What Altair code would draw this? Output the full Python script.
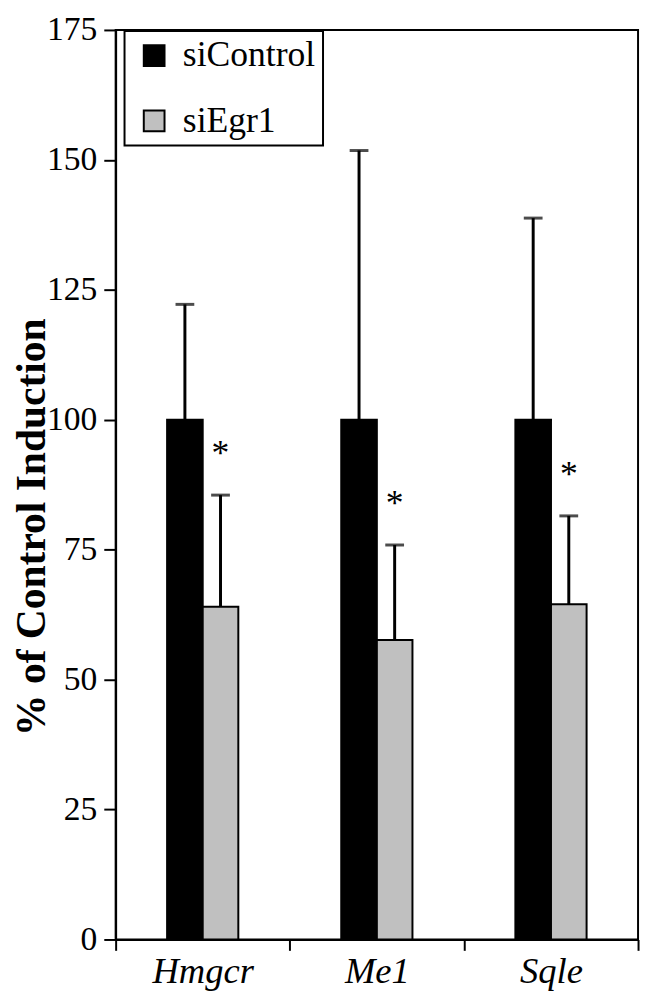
import altair as alt
import pandas as pd

genes = ["Hmgcr", "Me1", "Sqle"]
series = ["siControl", "siEgr1"]
control_mean = [100, 100, 100]
control_upper = [122.2, 151.8, 138.8]
egr1_mean = [64.0, 57.6, 64.5]
egr1_upper = [85.5, 75.9, 81.5]
y_ticks = [0, 25, 50, 75, 100, 125, 150, 175]

rows = []
for i, g in enumerate(genes):
    rows.append({"Gene": g, "Series": series[0], "Value": control_mean[i], "Upper": control_upper[i], "Sig": ""})
    rows.append({"Gene": g, "Series": series[1], "Value": egr1_mean[i], "Upper": egr1_upper[i], "Sig": "*"})
df = pd.DataFrame(rows)

FONT = "Liberation Serif"

# x for the drawn marks (groups of two adjacent bars)
x_bar = alt.X(
    "Gene:N",
    sort=genes,
    scale=alt.Scale(paddingInner=0.591, paddingOuter=0.2955),
    axis=None,
)
xoff_enc = alt.XOffset("Series:N", scale=alt.Scale(domain=series, paddingInner=0, paddingOuter=0))
y_scale = alt.Scale(domain=[0, 175], nice=False)

y_axis = alt.Axis(
    title="% of Control Induction",
    values=y_ticks,
    grid=False,
    tickSize=12,
    tickWidth=2,
    tickColor="black",
    domainColor="black",
    domainWidth=2,
    labelFont=FONT,
    labelFontSize=34,
    labelColor="black",
    labelPadding=7,
    titleFont=FONT,
    titleFontSize=42,
    titleFontWeight="bold",
    titleColor="black",
    titleX=-72,
    titleY=503,
    titleAlign="center",
    titleBaseline="alphabetic",
    titleAngle=270,
)

# invisible layer that carries the category axis with ticks on band boundaries
axis_layer = alt.Chart(df).mark_point(opacity=0).encode(
    x=alt.X(
        "Gene:N",
        sort=genes,
        scale=alt.Scale(paddingInner=0, paddingOuter=0),
        axis=alt.Axis(
            title="",
            orient="bottom",
            tickBand="extent",
            tickSize=11,
            tickWidth=2,
            tickColor="black",
            domainColor="black",
            domainWidth=2,
            labelFont=FONT,
            labelFontSize=37,
            labelFontStyle="italic",
            labelColor="black",
            labelPadding=4,
            labelAngle=0,
        ),
    ),
    y=alt.Y("Value:Q", scale=y_scale, axis=y_axis),
)

bars = alt.Chart(df).mark_bar(stroke="black", strokeWidth=2).encode(
    x=x_bar,
    xOffset=xoff_enc,
    y=alt.Y("Value:Q", scale=y_scale),
    color=alt.Color(
        "Series:N",
        scale=alt.Scale(domain=series, range=["#000000", "#c0c0c0"]),
        legend=alt.Legend(
            title="",
            orient="none",
            legendX=9,
            legendY=1,
            symbolType="square",
            symbolSize=441,
            symbolStrokeColor="black",
            symbolStrokeWidth=2,
            symbolOffset=5,
            labelFont=FONT,
            labelFontSize=36,
            labelColor="black",
            labelOffset=11,
            rowPadding=30,
            padding=7,
            strokeColor="black",
            fillColor="white",
        ),
    ),
)

err = alt.Chart(df).mark_rule(color="black", strokeWidth=3).encode(
    x=x_bar,
    xOffset=alt.XOffset("Series:N"),
    y=alt.Y("Value:Q"),
    y2=alt.Y2("Upper:Q"),
)

caps = alt.Chart(df).mark_tick(color="black", thickness=3, size=19, orient="horizontal").encode(
    x=x_bar,
    xOffset=alt.XOffset("Series:N"),
    y=alt.Y("Upper:Q"),
)

stars = alt.Chart(df).mark_text(font=FONT, fontSize=36, color="black", dy=-30, baseline="alphabetic").encode(
    x=x_bar,
    xOffset=alt.XOffset("Series:N"),
    y=alt.Y("Upper:Q"),
    text="Sig:N",
)

chart = (
    alt.layer(axis_layer, bars, err, caps, stars)
    .resolve_scale(x="independent")
    .properties(
        width=529,
        height=921,
        autosize=alt.AutoSizeParams(type="none"),
        padding={"left": 109, "top": 16, "right": 4, "bottom": 50},
        background="white",
    )
    .configure(font=FONT)
    .configure_view(stroke="black", strokeWidth=2)
    .configure_legend(strokeWidth=2, labelFont=FONT)
    .configure_axis(labelFont=FONT, titleFont=FONT)
)

chart.save("out.html", embed_options={"renderer": "svg", "actions": False})
